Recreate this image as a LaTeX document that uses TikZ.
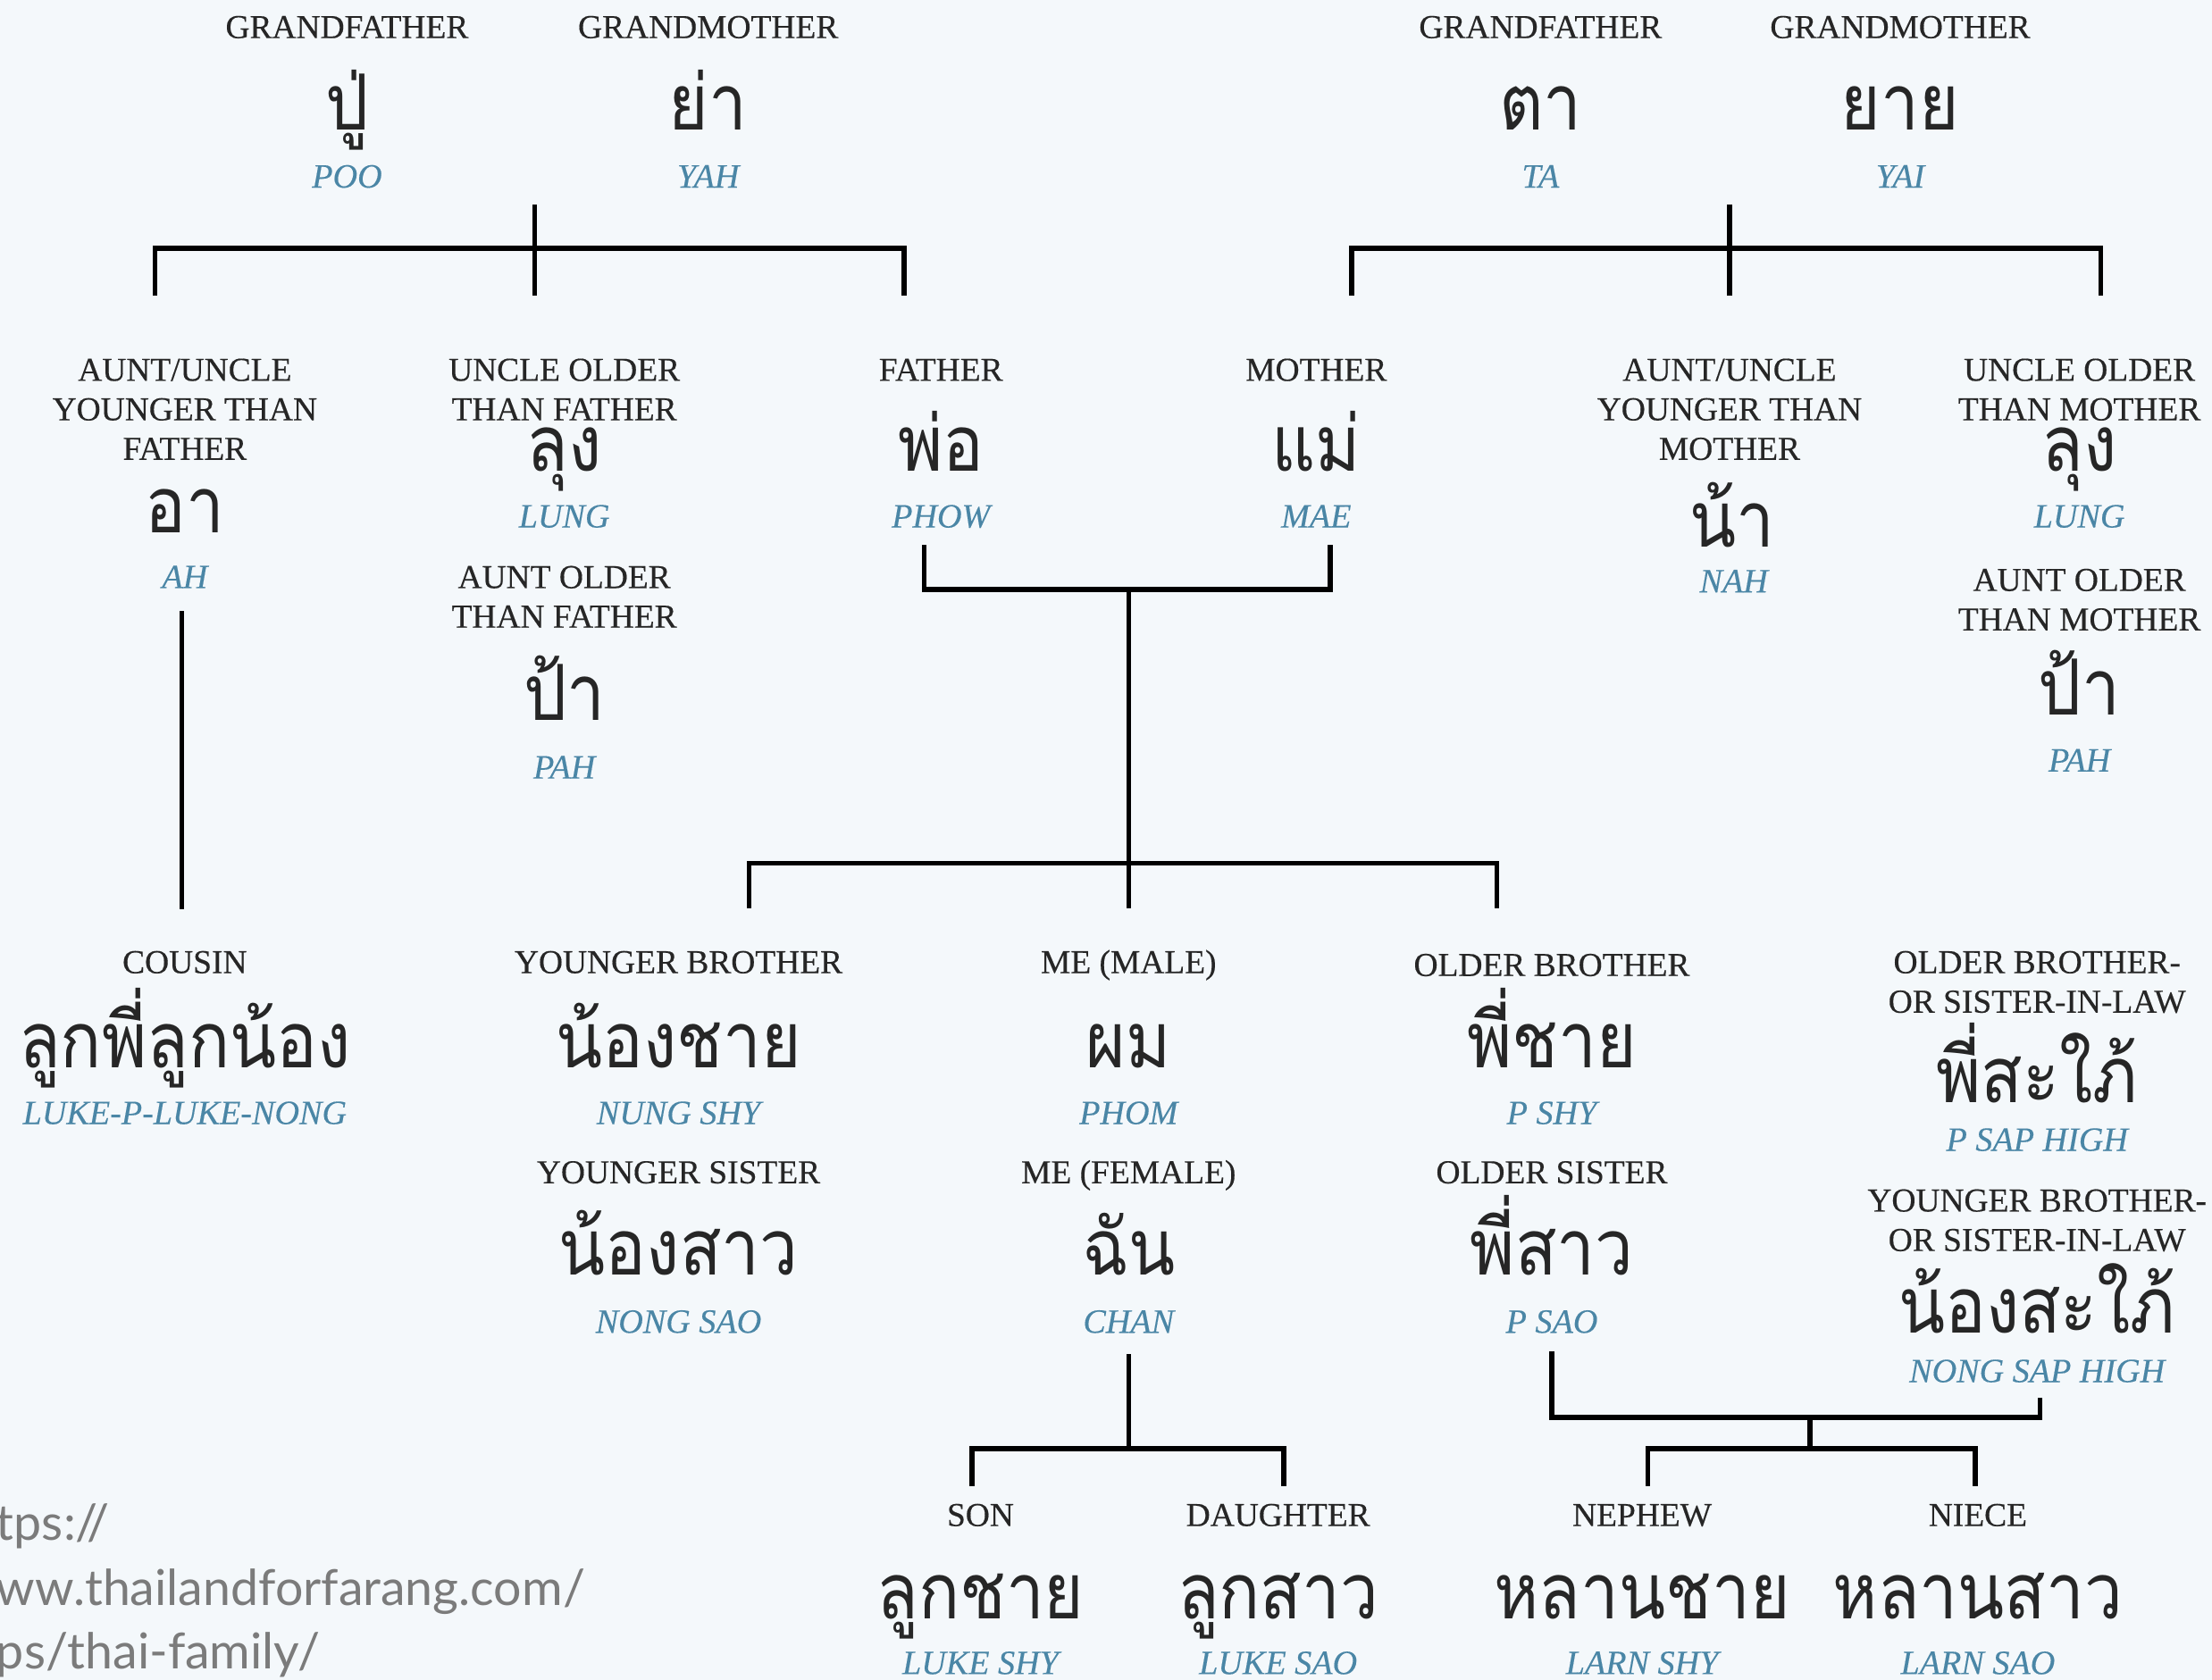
\documentclass[tikz,border=0pt]{standalone}
\usepackage{fontspec}
\setmainfont{Liberation Serif}
\newfontfamily\capfont[FakeBold=0.35]{Liberation Serif}
\newfontfamily\romfont[FakeBold=0.25]{Liberation Serif}
\newfontfamily\thaifont[Script=Thai, FakeStretch=0.88]{Loma}
\newfontfamily\urlfont{Lato}
\definecolor{bgc}{HTML}{F4F8FB}
\definecolor{ink}{HTML}{262626}
\definecolor{roman}{HTML}{4A86A6}
\definecolor{urlgray}{HTML}{7B7B7B}
\tikzset{
  lbl/.style={anchor=base, inner sep=0pt, text=ink, font=\capfont\fontsize{10.8}{12}\selectfont},
  th/.style={anchor=base, inner sep=0pt, text=ink, font=\thaifont\fontsize{25}{28}\selectfont},
  rom/.style={anchor=base, inner sep=0pt, text=roman, font=\romfont\itshape\fontsize{11}{12}\selectfont},
  link/.style={line width=1.6pt, draw=black, line join=miter, line cap=rect},
  urltxt/.style={anchor=base west, inner sep=0pt, text=urlgray, font=\urlfont\fontsize{16}{18}\selectfont}
}
\begin{document}
\begin{tikzpicture}[x=0.016cm, y=-0.016cm]
\fill[bgc] (0,0) rectangle (1568,1191);
\useasboundingbox (0,0) rectangle (1568,1191);

% ---- paternal grandparents
\node[lbl] (gfpl) at (246,27) {GRANDFATHER};
\node[th]  (gfpt) at (246,92) {ปู่};
\node[rom] (gfpr) at (246,133) {POO};
\node[lbl] (gmpl) at (502,27) {GRANDMOTHER};
\node[th]  (gmpt) at (502,92) {ย่า};
\node[rom] (gmpr) at (502,133) {YAH};

% ---- maternal grandparents
\node[lbl] (gfml) at (1092,27) {GRANDFATHER};
\node[th]  (gfmt) at (1092,92) {ตา};
\node[rom] (gfmr) at (1092,133) {TA};
\node[lbl] (gmml) at (1347,27) {GRANDMOTHER};
\node[th]  (gmmt) at (1347,92) {ยาย};
\node[rom] (gmmr) at (1347,133) {YAI};

% ---- father's side
\node[lbl] (ayf1) at (131,270) {AUNT/UNCLE};
\node[lbl] (ayf2) at (131,298) {YOUNGER THAN};
\node[lbl] (ayf3) at (131,326) {FATHER};
\node[th]  (ayft) at (131,378) {อา};
\node[rom] (ayfr) at (131,417) {AH};

\node[lbl] (uof1) at (400,270) {UNCLE OLDER};
\node[lbl] (uof2) at (400,298) {THAN FATHER};
\node[th]  (uoft) at (400,334) {ลุง};
\node[rom] (uofr) at (400,374) {LUNG};
\node[lbl] (aof1) at (400,417) {AUNT OLDER};
\node[lbl] (aof2) at (400,445) {THAN FATHER};
\node[th]  (aoft) at (400,511) {ป้า};
\node[rom] (aofr) at (400,552) {PAH};

\node[lbl] (fal) at (667,270) {FATHER};
\node[th]  (fat) at (667,334) {พ่อ};
\node[rom] (far) at (667,374) {PHOW};

% ---- mother's side
\node[lbl] (mol) at (933,270) {MOTHER};
\node[th]  (mot) at (933,334) {แม่};
\node[rom] (mor) at (933,374) {MAE};

\node[lbl] (aym1) at (1226,270) {AUNT/UNCLE};
\node[lbl] (aym2) at (1226,298) {YOUNGER THAN};
\node[lbl] (aym3) at (1226,326) {MOTHER};
\node[th]  (aymt) at (1228,388) {น้า};
\node[rom] (aymr) at (1229,420) {NAH};

\node[lbl] (uom1) at (1474,270) {UNCLE OLDER};
\node[lbl] (uom2) at (1474,298) {THAN MOTHER};
\node[th]  (uomt) at (1474,334) {ลุง};
\node[rom] (uomr) at (1474,374) {LUNG};
\node[lbl] (aom1) at (1474,419) {AUNT OLDER};
\node[lbl] (aom2) at (1474,447) {THAN MOTHER};
\node[th]  (aomt) at (1474,507) {ป้า};
\node[rom] (aomr) at (1474,547) {PAH};

% ---- own generation
\node[lbl] (col) at (131,690) {COUSIN};
\node[th]  (cot) at (131,757) {ลูกพี่ลูกน้อง};
\node[rom] (cor) at (131,797) {LUKE-P-LUKE-NONG};

\node[lbl] (ybl) at (481,690) {YOUNGER BROTHER};
\node[th]  (ybt) at (481,757) {น้องชาย};
\node[rom] (ybr) at (481,797) {NUNG SHY};
\node[lbl] (ysl) at (481,839) {YOUNGER SISTER};
\node[th]  (yst) at (481,904) {น้องสาว};
\node[rom] (ysr) at (481,945) {NONG SAO};

\node[lbl] (mml) at (800,690) {ME (MALE)};
\node[th]  (mmt) at (800,757) {ผม};
\node[rom] (mmr) at (800,797) {PHOM};
\node[lbl] (mfl) at (800,839) {ME (FEMALE)};
\node[th]  (mft) at (800,904) {ฉัน};
\node[rom] (mfr) at (800,945) {CHAN};

\node[lbl] (obl) at (1100,692) {OLDER BROTHER};
\node[th]  (obt) at (1100,757) {พี่ชาย};
\node[rom] (obr) at (1100,797) {P SHY};
\node[lbl] (osl) at (1100,839) {OLDER SISTER};
\node[th]  (ost) at (1100,904) {พี่สาว};
\node[rom] (osr) at (1100,945) {P SAO};

\node[lbl] (oil1) at (1444,690) {OLDER BROTHER-};
\node[lbl] (oil2) at (1444,718) {OR SISTER-IN-LAW};
\node[th]  (oilt) at (1444,782) {พี่สะใภ้};
\node[rom] (oilr) at (1444,816) {P SAP HIGH};
\node[lbl] (yil1) at (1444,859) {YOUNGER BROTHER-};
\node[lbl] (yil2) at (1444,887) {OR SISTER-IN-LAW};
\node[th]  (yilt) at (1444,945) {น้องสะใภ้};
\node[rom] (yilr) at (1444,980) {NONG SAP HIGH};

% ---- children, nephew and niece
\node[lbl] (sol) at (695,1082) {SON};
\node[th]  (sot) at (695,1148) {ลูกชาย};
\node[rom] (sor) at (695,1187) {LUKE SHY};
\node[lbl] (dal) at (906,1082) {DAUGHTER};
\node[th]  (dat) at (906,1148) {ลูกสาว};
\node[rom] (dar) at (906,1187) {LUKE SAO};
\node[lbl] (nel) at (1164,1082) {NEPHEW};
\node[th]  (net) at (1164,1148) {หลานชาย};
\node[rom] (ner) at (1164,1187) {LARN SHY};
\node[lbl] (nil) at (1402,1082) {NIECE};
\node[th]  (nit) at (1402,1148) {หลานสาว};
\node[rom] (nir) at (1402,1187) {LARN SAO};

% ---- source address
\node[urltxt] (u1) at (-3,1092) {tps://};
\node[urltxt] (u2) at (-3,1138) {ww.thailandforfarang.com/};
\node[urltxt] (u3) at (-3,1183) {ps/thai-family/};

% ---- connector end points
\coordinate (pgtop) at (379,147);
\coordinate (pgd1) at (110,208);
\coordinate (pgd2) at (379,208);
\coordinate (pgd3) at (641,208);
\coordinate (mgtop) at (1226,147);
\coordinate (mgd1) at (958,208);
\coordinate (mgd2) at (1226,208);
\coordinate (mgd3) at (1489,208);
\coordinate (fastub) at (655,388);
\coordinate (mostub) at (943,388);
\coordinate (pmid) at (800,418);
\coordinate (sbd1) at (531,642);
\coordinate (sbd2) at (800,642);
\coordinate (sbd3) at (1061,642);
\coordinate (cotop) at (129,435);
\coordinate (cobot) at (129,643);
\coordinate (chtop) at (800,962);
\coordinate (chmid) at (800,1027);
\coordinate (chd1) at (689,1052);
\coordinate (chd2) at (910,1052);
\coordinate (pstop) at (1100,960);
\coordinate (nstop) at (1446,993);
\coordinate (nemid) at (1283,1005);
\coordinate (nebar) at (1283,1027);
\coordinate (ned1) at (1168,1052);
\coordinate (ned2) at (1400,1052);

% ---- connectors
\draw[link] (pgtop) -- (pgd2);
\draw[link] (pgd1) -- ++(0,-32) -| (pgd3);
\draw[link] (mgtop) -- (mgd2);
\draw[link] (mgd1) -- ++(0,-32) -| (mgd3);
\draw[link] (fastub) |- (pmid) -| (mostub);
\draw[link] (pmid) -- (sbd2);
\draw[link] (sbd1) -- ++(0,-30) -| (sbd3);
\draw[link] (cotop) -- (cobot);
\draw[link] (chtop) -- (chmid);
\draw[link] (chd1) -- ++(0,-25) -| (chd2);
\draw[link] (pstop) |- (nemid) -| (nstop);
\draw[link] (nemid) -- (nebar);
\draw[link] (ned1) -- ++(0,-25) -| (ned2);
\end{tikzpicture}
\end{document}
